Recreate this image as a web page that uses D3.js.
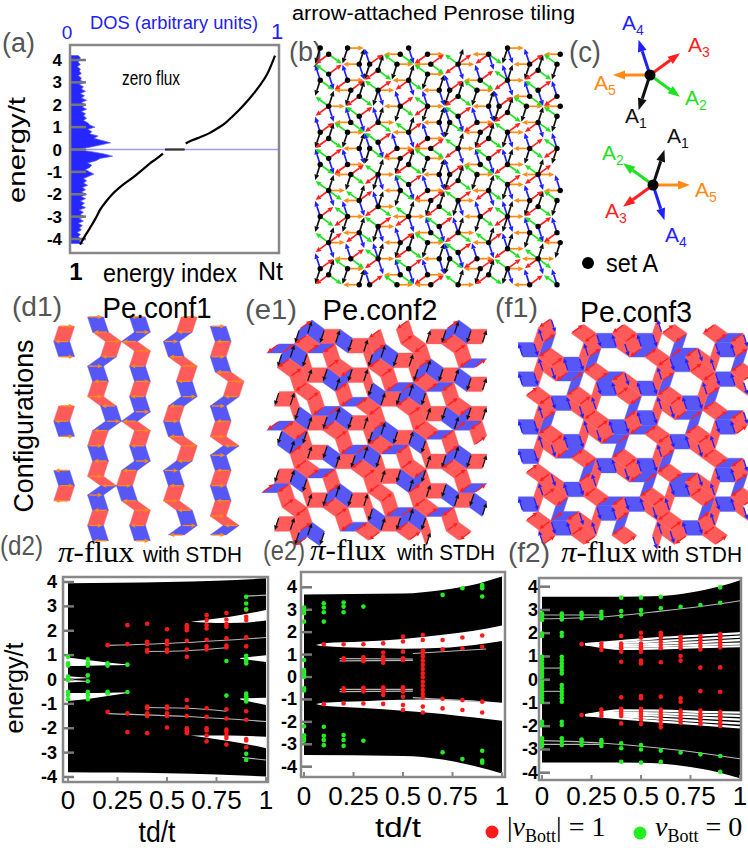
<!DOCTYPE html>
<html><head><meta charset="utf-8">
<script src="https://cdn.jsdelivr.net/npm/d3@7/dist/d3.min.js"></script>
<style>html,body{margin:0;padding:0;background:#fff;} svg{display:block;}</style>
</head><body>
<svg id="fig" width="748" height="848" xmlns="http://www.w3.org/2000/svg"></svg>
<script>
const SANS = "'Liberation Sans', Arial, sans-serif";
const SERIF = "'Liberation Serif', 'Times New Roman', serif";

// ================= DATA =================
// panel (a)
const aTicks = [-4,-3,-2,-1,0,1,2,3,4];
const dosEnergy = d3.range(-42,43).map(i=>i/10);
const dosValue = [0.06,0.04,0.05,0.035,0.045,0.03,0.05,0.04,0.055,0.035,0.06,0.04,0.065,0.045,0.06,0.04,0.07,0.05,0.065,0.045,
 0.07,0.05,0.075,0.05,0.07,0.055,0.08,0.06,0.075,0.06,0.085,0.11,0.09,0.07,0.09,0.1,0.08,0.12,0.14,0.2,
 0.16,0.1,0.03,0.09,0.14,0.19,0.15,0.11,0.13,0.09,0.1,0.08,0.115,0.09,0.08,0.06,0.075,0.06,0.07,0.05,
 0.075,0.055,0.07,0.05,0.075,0.05,0.065,0.045,0.07,0.05,0.06,0.04,0.065,0.045,0.05,0.035,0.05,0.04,0.045,0.03,
 0.045,0.035,0.04,0.045,0.035];
const curveLowIdx = [0.035,0.06,0.084,0.11,0.133,0.165,0.197,0.25,0.296,0.34,0.379,0.41,0.443];
const curveLowE   = [-4.25,-3.85,-3.5,-3.1,-2.7,-2.3,-1.97,-1.55,-1.25,-0.92,-0.62,-0.42,-0.18];
const plateauIdx  = [0.453,0.55];
const plateauE    = [0,0];
const curveHighIdx = [0.555,0.59,0.626,0.67,0.709,0.75,0.788,0.83,0.872,0.915,0.956,0.995];
const curveHighE   = [0.27,0.42,0.55,0.72,0.93,1.18,1.5,1.88,2.3,2.8,3.36,4.2];

// penrose tiling (pentagrid offsets, sum = 0)
const gridShift = [0.137,0.291,-0.223,0.178,-0.383];
const dirColor = ['#ff8a14','#111111','#1fe21f','#ff1f1f','#1f1fff']; // A5, A1, A2, A3, A4
const dirName  = ['5','1','2','3','4'];
const tileRed = '#ff5b5b', tileBlue = '#5757f7';

// spectra
const tdValues = [0,0.1,0.2,0.3,0.4,0.5,0.6,0.7,0.8,0.9];
const xTickValues = [0,0.25,0.5,0.75,1];
const xTickLabels = ['0','0.25','0.5','0.75','1'];
const yTickValues = [-4,-3,-2,-1,0,1,2,3,4];

// d2
const d2EnvTd  = [0,0.25,0.5,0.75,1];
const d2EnvTop = [3.95,3.97,4.0,4.05,4.15];
const d2EnvBot = [-3.8,-3.82,-3.85,-3.9,-3.98];
const d2Gaps = [
 {td:[0,0.1,0.2,0.32], hi:[0.9,0.8,0.7,0.61], lo:[0.55,0.56,0.58,0.61]},
 {td:[0,0.1,0.2,0.32], hi:[-0.55,-0.55,-0.54,-0.52], lo:[-0.88,-0.8,-0.68,-0.52]},
 {td:[0,0.12], hi:[0.13,0.06], lo:[0.02,0.06]},
 {td:[0,0.12], hi:[-0.01,-0.07], lo:[-0.12,-0.07]},
 {td:[0.62,0.75,0.87,1], hi:[2.37,2.5,2.65,2.85], lo:[2.37,2.32,2.33,2.42]},
 {td:[0.62,0.75,0.87,1], hi:[-2.3,-2.3,-2.31,-2.35], lo:[-2.3,-2.45,-2.6,-2.82]},
 {td:[0.87,1], hi:[0.88,1.0], lo:[0.85,0.72]},
 {td:[0.87,1], hi:[-0.78,-0.75], lo:[-0.82,-1.05]}
];
const d2Lines = [
 {td:[0.2,0.6,1], E:[1.4,1.52,1.72]},
 {td:[0.4,0.6,0.8], E:[1.15,1.18,1.3]},
 {td:[0.2,0.6,1], E:[-1.4,-1.52,-1.72]},
 {td:[0.4,0.6,0.8], E:[-1.15,-1.18,-1.3]},
 {td:[0.9,1], E:[3.42,3.46]},
 {td:[0.88,1], E:[-3.2,-3.3]}
];
const d2Red = [[],[],[1.41,-1.33],[2.23,1.45,-1.39,-2.16],
 [2.29,1.55,1.45,1.21,1.14,-1.11,-1.18,-1.39,-1.5,-2.2],
 [2.06,1.59,1.45,1.23,1.14,-1.11,-1.18,-1.39,-1.5,-1.97],
 [2.23,2.16,2.09,2.02,1.59,1.23,0.93,-0.84,-1.14,-1.5,-2.0,-2.07,-2.13,-2.2],
 [2.64,2.44,2.23,2.09,1.63,1.36,1.23,-1.18,-1.53,-2.0,-2.09,-2.3,-2.54],
 [2.73,2.46,2.27,2.16,1.69,1.39,1.31,-1.22,-1.6,-2.05,-2.15,-2.3,-2.4,-2.67],
 [2.85,2.57,2.44,1.73,1.36,-1.3,-1.65,-2.44,-2.5,-2.78]];
const d2Green = [[0.93,0.66,0.57,0.12,-0.02,-0.5,-0.64,-0.81],
 [0.83,0.66,0.57,0.17,-0.07,-0.5,-0.64,-0.81],
 [0.66,0.57,-0.5,-0.57],[0.61,-0.51],[],[],[],[],[0.76,-0.66],
 [3.39,3.12,2.88,0.97,0.83,0.76,0.66,-0.58,-0.69,-0.81,-0.9,-3.05,-3.3]];

// e2
const e2EnvTd  = [0,0.5,0.7,0.85,1];
const e2EnvTop = [3.68,3.72,3.88,4.1,4.48];
const e2EnvBot = [-3.48,-3.52,-3.68,-3.95,-4.3];
const e2Gaps = [
 {td:[0.06,0.1,0.3,0.5,0.7,0.85,1], hi:[1.43,1.5,1.58,1.7,1.88,2.05,2.3], lo:[1.43,1.38,1.3,1.26,1.3,1.42,1.6]},
 {td:[0.06,0.1,0.3,0.5,0.7,0.85,1], hi:[-1.2,-1.15,-1.08,-1.02,-1.0,-1.05,-1.15], lo:[-1.2,-1.28,-1.38,-1.5,-1.65,-1.8,-1.95]}
];
const e2Lines = [
 {td:[0.18,0.55], E:[0.82,0.8]},
 {td:[0.18,0.55], E:[0.72,0.74]},
 {td:[0.18,0.55], E:[-0.55,-0.55]},
 {td:[0.18,0.55], E:[-0.65,-0.63]},
 {td:[0.55,0.92], E:[1.05,1.25]},
 {td:[0.55,0.92], E:[-0.92,-1.12]}
];
const e2Red = [[],[1.46,-1.21],[1.46,0.83,0.76,-0.5,-0.61,-1.18],
 [1.46,0.88,0.79,0.7,-0.48,-0.55,-0.64,-1.18],
 [1.5,1.09,0.9,0.82,0.73,0.64,-0.46,-0.55,-0.64,-0.8,-1.2],
 [1.8,1.58,1.13,0.83,0.76,-0.46,-0.55,-0.65,-0.88,-1.25,-1.47],
 [1.87,1.65,1.18,1.06,0.91,0.73,0.54,0.36,0.16,-0.01,-0.21,-0.39,-0.58,-0.76,-0.9,-1.32,-1.58],
 [1.65,1.24,-0.97,-1.4],[1.76,1.28,-1.03,-1.47],[1.85,1.35,-1.1,-1.58]];
const e2Green = [[3.1,2.95,2.84,2.47,0.76,0.31,0.21,0.12,0.01,-0.5,-0.6,-2.2,-2.6,-2.74,-2.84],
 [3.29,3.1,2.89,2.47,-2.22,-2.62,-2.81,-3.04],
 [3.32,3.14,2.89,-2.59,-2.81,-3.07],[3.14,-2.84],[],[],[],
 [3.66,-3.36],[3.96,-3.66],[4.1,4.03,3.96,3.59,-3.29,-3.73,-3.82]];

// f2
const f2EnvTd  = [0,0.3,0.5,0.6,0.75,0.9,1];
const f2EnvTop = [3.57,3.57,3.58,3.6,3.75,4.02,4.28];
const f2EnvBot = [-3.56,-3.56,-3.57,-3.6,-3.75,-4.0,-4.24];
const f2FanTd = [0.22,0.4,0.6,0.8,1];
const f2Fans = [[1.53,1.66,1.8,1.9,2.0],[1.53,1.58,1.66,1.75,1.85],[1.53,1.5,1.55,1.62,1.7],[1.53,1.42,1.45,1.5,1.55],[1.53,1.33,1.35,1.4,1.44],
 [-1.52,-1.66,-1.8,-1.92,-2.05],[-1.52,-1.58,-1.68,-1.78,-1.88],[-1.52,-1.5,-1.55,-1.63,-1.72],[-1.52,-1.42,-1.45,-1.5,-1.56],[-1.52,-1.32,-1.33,-1.38,-1.42]];
const f2Lines = [
 {td:[0,0.3,0.6,0.8,1], E:[2.62,2.7,2.95,3.15,3.4]},
 {td:[0,0.3], E:[2.78,2.78]},
 {td:[0,0.3,0.6,0.8,1], E:[-2.62,-2.72,-2.95,-3.15,-3.4]},
 {td:[0,0.3], E:[-2.78,-2.78]},
 {td:[0,0.1], E:[0.5,0.5]},
 {td:[0,0.1], E:[-0.5,-0.5]}
];
const f2Red = [[],[],[1.53,-1.52],[1.56,1.42,1.28,-1.28,-1.42,-1.56],
 [1.88,1.56,1.45,1.35,1.2,0.77,-0.76,-1.25,-1.35,-1.45,-1.56,-1.88],
 [2.02,1.81,1.56,1.45,1.35,1.2,0.82,0.7,-0.7,-0.8,-1.25,-1.35,-1.45,-1.56,-1.71,-1.91],
 [2.02,1.92,1.81,1.63,1.49,1.35,0.75,-0.73,-1.28,-1.42,-1.56,-1.73,-1.91,-2.05],
 [1.85,1.71,1.59,1.45,1.35,1.02,0.82,-0.8,-0.95,-1.33,-1.42,-1.56,-1.71,-1.85],
 [1.88,1.73,1.59,1.45,1.3,0.52,-0.49,-1.33,-1.48,-1.62,-1.76,-1.91],
 [1.96,1.82,1.68,1.53,1.39,0.53,-0.52,-1.38,-1.53,-1.68,-1.82,-1.99]];
const f2Green = [[2.85,2.78,2.68,2.57,1.99,1.88,0.99,0.85,0.7,0.56,0.42,0.27,0.13,-0.09,-0.23,-0.37,-0.52,-0.66,-0.8,-0.95,-1.81,-1.95,-2.52,-2.62,-2.74,-2.85],
 [2.85,2.71,2.59,2.02,1.88,0.99,0.85,0.7,0.56,0.42,0.27,-0.23,-0.37,-0.52,-0.66,-0.8,-0.95,-1.81,-1.95,-2.52,-2.67,-2.81],
 [2.88,2.78,2.64,-2.57,-2.67,-2.81],[2.92,2.78,2.64,-2.6,-2.71,-2.85],
 [3.53,2.95,2.74,-2.74,-2.95,-3.53],[3.53,3.0,2.81,-2.81,-3.0,-3.56],
 [3.57,3.07,-3.05,-3.53],[3.14,-3.13],[3.21,-3.21],[3.97,3.31,-3.28,-3.96]];

// ================= HELPERS =================
const svg = d3.select('#fig');
svg.append('rect').attr('width',748).attr('height',848).attr('fill','#fff');
function T(x,y,s,o={}){
  const t = svg.append('text').attr('x',x).attr('y',y).text(s)
    .attr('font-size',o.size||20).attr('fill',o.fill||'#000')
    .attr('text-anchor',o.anchor||'start').attr('font-family',o.family||SANS)
    .attr('font-weight',o.weight||'normal');
  if(o.style) t.attr('font-style',o.style);
  if(o.width) t.attr('textLength',o.width).attr('lengthAdjust','spacingAndGlyphs');
  if(o.rotate) t.attr('transform',`rotate(${o.rotate},${x},${y})`);
  return t;
}
function arrow(g,p,q,color,w,head,hw,t0,t1){
  const dx=q[0]-p[0], dy=q[1]-p[1], L=Math.hypot(dx,dy); if(L<1e-6) return;
  const ux=dx/L, uy=dy/L;
  const s=[p[0]+dx*t0,p[1]+dy*t0], e=[p[0]+dx*t1,p[1]+dy*t1];
  const bx=e[0]-ux*head, by=e[1]-uy*head;
  g.append('line').attr('x1',s[0]).attr('y1',s[1]).attr('x2',bx).attr('y2',by)
   .attr('stroke',color).attr('stroke-width',w);
  g.append('path').attr('d',`M${e[0]},${e[1]}L${bx-uy*hw},${by+ux*hw}L${bx+uy*hw},${by-ux*hw}Z`).attr('fill',color);
}

// pentagrid (de Bruijn) rhombus tiling
const E5 = d3.range(5).map(k=>[Math.cos(2*Math.PI*k/5), Math.sin(2*Math.PI*k/5)]);
function penrose(gam,N){
  const tiles=[];
  for(let r=0;r<5;r++) for(let s=r+1;s<5;s++){
    const a=E5[r], b=E5[s], det=a[0]*b[1]-a[1]*b[0];
    for(let kr=-N;kr<=N;kr++) for(let ks=-N;ks<=N;ks++){
      const cr=kr-gam[r], cs=ks-gam[s];
      const x=(cr*b[1]-cs*a[1])/det, y=(a[0]*cs-b[0]*cr)/det;
      const K=E5.map((e,j)=>Math.ceil(x*e[0]+y*e[1]+gam[j]));
      K[r]=kr; K[s]=ks;
      const vert=(dr,ds)=>{const k=K.slice(); k[r]+=dr; k[s]+=ds; let px=0,py=0,idx=0;
        k.forEach((kj,j)=>{px+=kj*E5[j][0]; py+=kj*E5[j][1]; idx+=kj;}); return {x:px,y:py,i:idx};};
      const v=[vert(0,0),vert(1,0),vert(1,1),vert(0,1)];
      let ang=Math.atan2(E5[r][1]+E5[s][1],E5[r][0]+E5[s][0])*180/Math.PI; ang=((ang%180)+180)%180;
      tiles.push({r,s,thick:(s-r===1||s-r===4),lean:ang<90,v,
        edges:[[v[0],v[1],r],[v[3],v[2],r],[v[0],v[3],s],[v[1],v[2],s]],
        cx:(v[0].x+v[2].x)/2, cy:(v[0].y+v[2].y)/2});
    }
  }
  return tiles;
}
const tiling = penrose(gridShift,7);
const key = (x,y)=>Math.round(x*1000)+','+Math.round(y*1000);

// ================= PANEL (a) =================
const xA = d3.scaleLinear([0,1],[73,276]);
const yA = d3.scaleLinear([-4,4],[239,60]);
const dA = d3.scaleLinear([0,1],[71,279]);
const gA = svg.append('g');
gA.append('path').attr('d', d3.area().y(d=>yA(d[0])).x0(dA(0)).x1(d=>dA(d[1]))(d3.zip(dosEnergy,dosValue)))
  .attr('fill','#2626ff').attr('stroke','#5a5aff').attr('stroke-width',0.7);
gA.append('line').attr('x1',71).attr('x2',278).attr('y1',yA(0)).attr('y2',yA(0)).attr('stroke','#9a9aff').attr('stroke-width',1.3);
aTicks.forEach(t=>{
  gA.append('line').attr('x1',71).attr('x2',86).attr('y1',yA(t)).attr('y2',yA(t)).attr('stroke','#777').attr('stroke-width',2.5);
  T(62,yA(t)+6,String(t),{size:17,weight:'bold',anchor:'end'});
});
const lineA = d3.line().x(d=>xA(d[0])).y(d=>yA(d[1])).curve(d3.curveMonotoneX);
[[curveLowIdx,curveLowE],[plateauIdx,plateauE],[curveHighIdx,curveHighE]].forEach(([ix,ev])=>{
  gA.append('path').attr('d',lineA(d3.zip(ix,ev))).attr('fill','none').attr('stroke',ix===plateauIdx?'#333':'#000').attr('stroke-width',2.2);
});
gA.append('rect').attr('x',70).attr('y',45).attr('width',209).attr('height',208).attr('fill','none').attr('stroke','#888').attr('stroke-width',2.5);
T(2,52,'(a)',{size:27,fill:'#555',width:33});
T(90,29,'DOS (arbitrary units)',{size:18,fill:'#2222ee',width:168});
T(67,39,'0',{size:19,fill:'#2222ee',anchor:'middle'});
T(277,39,'1',{size:22,fill:'#2222ee',anchor:'middle'});
T(122,85,'zero flux',{size:20,width:58});
T(25,150,'energy/t',{size:24,anchor:'middle',rotate:-90,width:106});
T(76,280,'1',{size:24,weight:'bold',anchor:'middle'});
T(103,282,'energy index',{size:25,width:134});
T(258,280,'Nt',{size:25,width:25});

// ================= PANEL (b) =================
T(292,20,'arrow-attached  Penrose tiling',{size:20,width:283});
T(289,61,'(b)',{size:27,fill:'#555',width:33});
(function(){
  const xB=d3.scaleLinear([-7.4,7.4],[311,561]);
  const yB=d3.scaleLinear([-7.3,7.3],[288,41]);
  const inD=(v)=>v.x>=-7.45&&v.x<=7.45&&v.y>=-7.35&&v.y<=7.35;
  const g=svg.append('g');
  const seen=new Set(), verts=new Map();
  tiling.forEach(t=>t.edges.forEach(([a,b,k])=>{
    if(!inD(a)||!inD(b)) return;
    const kk=key((a.x+b.x)/2,(a.y+b.y)/2); if(seen.has(kk)) return; seen.add(kk);
    const A=(a.i%2===0)?a:b, Bv=(A===a)?b:a;
    verts.set(key(A.x,A.y),A);
    arrow(g,[xB(A.x),yB(A.y)],[xB(Bv.x),yB(Bv.y)],dirColor[k],1.7,5.5,2.5,0.1,0.96);
  }));
  verts.forEach(v=>g.append('circle').attr('cx',xB(v.x)).attr('cy',yB(v.y)).attr('r',2.7).attr('fill','#000'));
})();

// ================= PANEL (c) =================
T(569,62,'(c)',{size:29,fill:'#555',width:32});
(function(){
  const g=svg.append('g');
  const L=37;
  const star=(cx,cy,sign)=>{
    E5.forEach((e,k)=>{
      const q=[cx+sign*e[0]*L, cy-sign*e[1]*L];
      arrow(g,[cx,cy],q,dirColor[k],3,12,4.5,0,1);
    });
    g.append('circle').attr('cx',cx).attr('cy',cy).attr('r',5.5).attr('fill','#000');
  };
  star(650,75,-1); star(653,185,1);
  const lab=(x,y,k)=>{
    const t=T(x,y,'A',{size:21,fill:dirColor[k]});
    t.append('tspan').attr('dy',5).attr('font-size',14).text(dirName[k]);
  };
  lab(622,30,4); lab(688,52,3); lab(594,90,0); lab(685,105,2); lab(625,123,1);
  lab(667,143,1); lab(602,160,2); lab(695,197,0); lab(605,218,3); lab(665,242,4);
  g.append('circle').attr('cx',588).attr('cy',263).attr('r',6).attr('fill','#000');
  T(606,272,'set A',{size:25,width:52});
})();

// ================= CONFIGURATIONS =================
function config(box,center,fams,edge){
  const [x0,y0,x1,y1]=box;
  const hw=(x1-x0)/2/edge, hh=(y1-y0)/2/edge;
  const xs=d3.scaleLinear([center[0]-hw,center[0]+hw],[x0,x1]);
  const ys=d3.scaleLinear([center[1]-hh,center[1]+hh],[y1,y0]);
  const g=svg.append('g');
  const inc=tiling.filter(t=>(fams.includes(t.r)||fams.includes(t.s))&&xs(t.cx)>=x0&&xs(t.cx)<=x1&&ys(t.cy)>=y0&&ys(t.cy)<=y1);
  inc.forEach(t=>{
    const c=t.lean?tileRed:tileBlue;
    g.append('path').attr('d','M'+t.v.map(v=>xs(v.x)+','+ys(v.y)).join('L')+'Z')
     .attr('fill',c).attr('stroke',c).attr('stroke-width',0.4);
  });
  const seen=new Set();
  inc.forEach(t=>t.edges.forEach(([a,b,k])=>{
    if(!fams.includes(k)) return;
    const kk=key((a.x+b.x)/2,(a.y+b.y)/2); if(seen.has(kk)) return; seen.add(kk);
    const A=(a.i%2===0)?a:b, Bv=(A===a)?b:a;
    arrow(g,[xs(A.x),ys(A.y)],[xs(Bv.x),ys(Bv.y)],dirColor[k],1.3,4.5,2.2,0.1,0.92);
  }));
}
config([64,323,240,537],[0.6,0.4],[0],16);
config([275,330,486,537],[1.3,-0.8],[1,3],15.5);
config([525,327,746,537],[-0.9,1.1],[3,4],15.5);
T(12,316,'(d1)',{size:27,fill:'#555',width:50});
T(157,318,'Pe.conf1',{size:29,anchor:'middle',width:109});
T(245,319,'(e1)',{size:27,fill:'#555',width:52});
T(380,320,'Pe.conf2',{size:29,anchor:'middle',width:115});
T(495,317,'(f1)',{size:27,fill:'#555',width:43});
T(636,322,'Pe.conf3',{size:29,anchor:'middle',width:112});
T(33,426,'Configurations',{size:28,anchor:'middle',rotate:-90,width:173});

// ================= SPECTRA =================
function spectrum(o){
  const [fx0,fy0,fx1,fy1]=o.frame;
  const id='clip'+o.name;
  svg.append('clipPath').attr('id',id).append('rect').attr('x',fx0).attr('y',fy0).attr('width',fx1-fx0).attr('height',fy1-fy0);
  const g=svg.append('g').attr('clip-path',`url(#${id})`);
  const area=d3.area().x(d=>o.x(d[0])).y0(d=>o.y(d[2])).y1(d=>o.y(d[1])).curve(d3.curveMonotoneX);
  g.append('path').attr('d',area(d3.zip(o.envTd,o.envTop,o.envBot))).attr('fill','#000');
  o.gaps.forEach(gp=>g.append('path').attr('d',area(d3.zip(gp.td,gp.hi,gp.lo))).attr('fill','#fff'));
  const line=d3.line().x(d=>o.x(d[0])).y(d=>o.y(d[1])).curve(d3.curveMonotoneX);
  (o.fans||[]).forEach(f=>g.append('path').attr('d',line(d3.zip(o.fanTd,f))).attr('fill','none').attr('stroke','#fff').attr('stroke-width',2.2));
  o.lines.forEach(l=>g.append('path').attr('d',line(d3.zip(l.td,l.E))).attr('fill','none').attr('stroke','#b8b8b8').attr('stroke-width',1.1));
  yTickValues.forEach(t=>{
    g.append('line').attr('x1',fx0).attr('x2',fx0+11).attr('y1',o.y(t)).attr('y2',o.y(t)).attr('stroke','#777').attr('stroke-width',2.5);
    T(o.labRight,o.y(t)+6,String(t),{size:18,weight:'bold',anchor:'end'});
  });
  xTickValues.forEach((t,i)=>{
    g.append('line').attr('x1',o.x(t)).attr('x2',o.x(t)).attr('y1',fy1).attr('y2',fy1-5).attr('stroke','#888').attr('stroke-width',2);
    T(o.x(t),o.xLabY,xTickLabels[i],{size:26,anchor:'middle'});
  });
  tdValues.forEach((td,i)=>{
    o.red[i].forEach(E=>g.append('circle').attr('cx',o.x(td)).attr('cy',o.y(E)).attr('r',2.3).attr('fill','#ff1a1a'));
    o.green[i].forEach(E=>g.append('circle').attr('cx',o.x(td)).attr('cy',o.y(E)).attr('r',2.3).attr('fill','#22ee22'));
  });
  svg.append('rect').attr('x',fx0).attr('y',fy0).attr('width',fx1-fx0).attr('height',fy1-fy0).attr('fill','none').attr('stroke','#888').attr('stroke-width',2.5);
}
spectrum({name:'d2',x:d3.scaleLinear([0,1],[68,266]),y:d3.scaleLinear([-4,4],[777,582]),frame:[63,577,268,782],
  labRight:57,xLabY:809,envTd:d2EnvTd,envTop:d2EnvTop,envBot:d2EnvBot,gaps:d2Gaps,lines:d2Lines,red:d2Red,green:d2Green});
spectrum({name:'e2',x:d3.scaleLinear([0,1],[304,502]),y:d3.scaleLinear([-4,4],[766.7,587.3]),frame:[301,572,505,777],
  labRight:297,xLabY:805,envTd:e2EnvTd,envTop:e2EnvTop,envBot:e2EnvBot,gaps:e2Gaps,lines:e2Lines,red:e2Red,green:e2Green});
spectrum({name:'f2',x:d3.scaleLinear([0,1],[542,740]),y:d3.scaleLinear([-4,4],[772.7,586.7]),frame:[539,578,741,780],
  labRight:538,xLabY:805,envTd:f2EnvTd,envTop:f2EnvTop,envBot:f2EnvBot,gaps:[],fanTd:f2FanTd,fans:f2Fans,lines:f2Lines,red:f2Red,green:f2Green});

function title(x,y,w1,sepX,w2){
  const t=T(x,y,'',{size:29,family:SERIF,width:w1});
  t.append('tspan').attr('font-style','italic').text('π');
  t.append('tspan').text('-flux');
  T(sepX,y,'with STDH',{size:22,width:w2});
}
T(0,555,'(d2)',{size:27,fill:'#555',width:43});
title(58,562,76,143,99);
T(263,560,'(e2)',{size:27,fill:'#555',width:42});
title(310,560,76,397,98);
T(508,562,'(f2)',{size:27,fill:'#555',width:42});
title(561,562,76,642,100);
T(23,688,'energy/t',{size:25,anchor:'middle',rotate:-90,width:91});
T(157,842,'td/t',{size:30,anchor:'middle',width:37});
T(398,837,'td/t',{size:27,anchor:'middle',width:46});

// legend
svg.append('circle').attr('cx',492).attr('cy',832).attr('r',6.5).attr('fill','#ff1a1a');
svg.append('circle').attr('cx',640).attr('cy',833).attr('r',6.5).attr('fill','#22ee22');
(function(){
  const t=T(507,836,'',{size:28,family:SERIF});
  t.append('tspan').text('|');
  t.append('tspan').attr('font-style','italic').text('ν');
  t.append('tspan').attr('font-size',18).attr('dy',6).text('Bott');
  t.append('tspan').attr('dy',-6).text('| = 1');
  const u=T(655,836,'',{size:28,family:SERIF});
  u.append('tspan').attr('font-style','italic').text('ν');
  u.append('tspan').attr('font-size',18).attr('dy',6).text('Bott');
  u.append('tspan').attr('dy',-6).text(' = 0');
})();
</script>
</body></html>
